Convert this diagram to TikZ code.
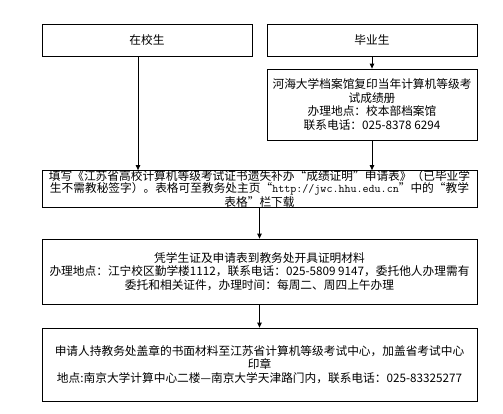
\documentclass[tikz,border=0pt]{standalone}
\usepackage{fontspec}
\newfontfamily\cjk{Noto Sans CJK SC}
\usepackage{tikz}
\usetikzlibrary{arrows.meta,positioning,calc}

\begin{document}
\begin{tikzpicture}[
    x=1pt, y=-1pt,
    box/.style={draw, line width=0.8pt, align=center, inner sep=1pt, minimum width=210pt, font=\cjk\fontsize{11.7}{13.8}\selectfont},
    widebox/.style={draw, line width=0.8pt, align=center, inner sep=1pt, minimum width=435pt, font=\cjk\fontsize{11.7}{13.8}\selectfont},
    arr/.style={-{Triangle[length=5pt,width=4.5pt]}, line width=0.8pt}
]
\useasboundingbox (0,0) rectangle (503,413);
\node[box, minimum height=32pt] (zaixiao) at (147,40) {在校生};
\node[box, minimum height=32pt] (biye) at (372,40) {毕业生};
\node[box, minimum height=71pt] (dangan) at (372,104.5) {河海大学档案馆复印当年计算机等级考\\试成绩册\\办理地点：校本部档案馆\\联系电话：025-8378 6294};
\node[widebox, minimum height=37pt, inner ysep=0pt, font=\cjk\fontsize{11.7}{11.6}\selectfont] (tianxie) at (259.5,189) {填写《江苏省高校计算机等级考试证书遗失补办“成绩证明”申请表》（已毕业学\\生不需教秘签字）。表格可至教务处主页“\texttt{http://jwc.hhu.edu.cn}”中的“教学\\表格”栏下载};
\node[widebox, minimum height=65pt] (pingzheng) at (259.5,271.5) {凭学生证及申请表到教务处开具证明材料\\办理地点：江宁校区勤学楼1112，联系电话：025-5809 9147，委托他人办理需有\\委托和相关证件，办理时间：每周二、周四上午办理};
\node[widebox, minimum height=73pt] (shenqing) at (259.5,364.5) {申请人持教务处盖章的书面材料至江苏省计算机等级考试中心，加盖省考试中心\\印章\\地点:南京大学计算中心二楼—南京大学天津路门内，联系电话：025-83325277};
\draw[arr] (biye.south) -- (dangan.north);
\draw[arr] ([xshift=-9pt]zaixiao.south) -- ([xshift=-9pt]zaixiao.south |- tianxie.north);
\draw[arr] (dangan.south) -- (dangan.south |- tianxie.north);
\draw[arr] (tianxie.south) -- (pingzheng.north);
\draw[arr] (pingzheng.south) -- (shenqing.north);
\end{tikzpicture}
\end{document}
